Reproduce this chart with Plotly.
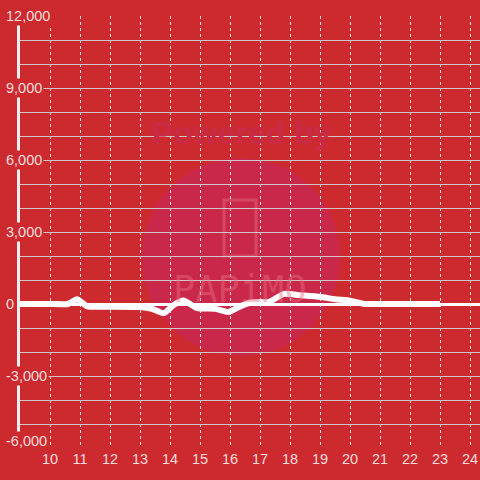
import plotly.graph_objects as go

# ---- data ----
hours = [9, 10, 10.6, 10.9, 11.25, 12, 13, 13.4, 13.8, 14.1, 14.45, 14.9, 15.5,
         15.95, 16.3, 16.7, 17.3, 17.8, 18.3, 19, 19.5, 20, 20.5, 21, 22, 23]
values = [0, 0, 0, 200, -100, -110, -125, -200, -380, -60, 150, -170, -200,
          -330, -120, 60, 90, 420, 370, 300, 200, 140, 0, 0, 0, 0]
x_ticks = list(range(10, 25))
y_ticks = [12000, 9000, 6000, 3000, 0, -3000, -6000]
y_tick_labels = ["12,000", "9,000", "6,000", "3,000", "0", "-3,000", "-6,000"]

BG = "#cd2a2f"
LABEL = "rgba(255,232,232,0.95)"

fig = go.Figure()
fig.add_trace(go.Scatter(
    x=hours, y=values, mode="lines",
    line=dict(color="white", width=6, shape="spline", smoothing=0.5),
    hoverinfo="skip", showlegend=False,
))

# watermark
fig.add_shape(type="circle", xref="paper", yref="paper",
              x0=(142 - 20) / 460, x1=(340 - 20) / 460,
              y0=(448 - 356) / 432, y1=(448 - 158) / 432,
              fillcolor="#c9284a", line=dict(width=0), layer="below")
fig.add_shape(type="rect", xref="paper", yref="paper",
              x0=(224 - 20) / 460, x1=(256 - 20) / 460,
              y0=(448 - 256) / 432, y1=(448 - 200) / 432,
              line=dict(color="rgba(235,110,130,0.45)", width=3), layer="below")
fig.add_annotation(text="<b>Powered by</b>", xref="paper", yref="paper",
                   x=(242 - 20) / 460, y=(448 - 133) / 432, showarrow=False,
                   yanchor="middle",
                   font=dict(family="Liberation Sans", size=32, color="#c92b46"))
fig.add_annotation(text="PAPiMO", xref="paper", yref="paper",
                   x=(240 - 20) / 460, y=(448 - 289) / 432, showarrow=False,
                   yanchor="middle",
                   font=dict(family="DejaVu Sans Mono", size=37,
                             color="rgba(235,110,130,0.45)"))

# y tick labels (with background covering axis line)
for v, t in zip(y_ticks, y_tick_labels):
    fig.add_annotation(text=t, xref="paper", yref="y", x=-16 / 460, y=v,
                       xanchor="left", yanchor="middle", showarrow=False,
                       bgcolor=BG, borderpad=1,
                       yshift=7 if v == -6000 else 0,
                       font=dict(family="Liberation Sans", size=14.5, color=LABEL))

fig.update_layout(
    width=480, height=480,
    margin=dict(l=20, r=0, t=16, b=32),
    paper_bgcolor=BG, plot_bgcolor=BG,
    xaxis=dict(range=[9, 24 + 1 / 3], tickvals=x_ticks,
               ticktext=[str(v) for v in x_ticks],
               showgrid=True, gridcolor="#e6e0e0", gridwidth=1, griddash="3px,3px",
               zeroline=False, showline=False, ticks="",
               tickfont=dict(family="Liberation Sans", size=14.5, color=LABEL)),
    yaxis=dict(range=[-6000, 12000], dtick=1000, tick0=0,
               showgrid=True, gridcolor="#d0c8c8", gridwidth=1,
               zeroline=True, zerolinecolor="white", zerolinewidth=3,
               showline=True, linecolor="#f4eeee", linewidth=3,
               showticklabels=False, ticks=""),
)

fig.write_html(
    "out.html",
    config={"displayModeBar": False},
    post_script="document.body.style.margin='0';"
                "document.body.style.background='" + BG + "';"
                "document.documentElement.style.background='" + BG + "';",
)
